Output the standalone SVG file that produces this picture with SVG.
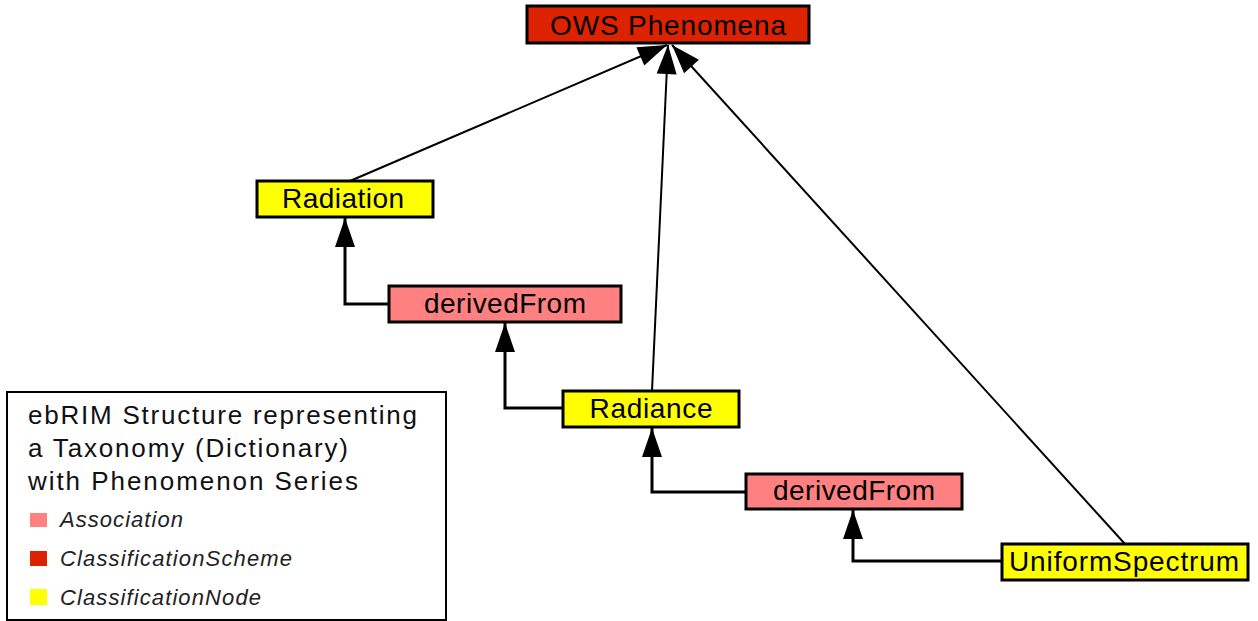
<svg xmlns="http://www.w3.org/2000/svg" width="1258" height="621" viewBox="0 0 1258 621">
<style>
.box{stroke:#000;stroke-width:3}
.scheme{fill:#DD2200}
.node{fill:#FFFF00}
.assoc{fill:#FF8080}
.lbl{font-family:"Liberation Sans",Arial,sans-serif;font-size:28px;fill:#000;text-anchor:middle}
.leg{font-family:"Liberation Sans",Arial,sans-serif;font-size:26px;fill:#111}
.legi{font-family:"Liberation Sans",Arial,sans-serif;font-size:22px;font-style:italic;fill:#222}
.ortho{fill:none;stroke:#000;stroke-width:3}
.diag{fill:none;stroke:#000;stroke-width:2}
</style>
<defs>
<marker id="tri" markerUnits="userSpaceOnUse" markerWidth="32" markerHeight="24" viewBox="-30 -12 32 24" refX="0" refY="0" orient="auto" overflow="visible">
<path d="M0,0 L-29,-10 L-29,10 Z" fill="#000"/>
</marker>
</defs>
<rect width="1258" height="621" fill="#fff"/>
<g id="connectors">
<path class="diag" d="M350,181 L667,45" marker-end="url(#tri)"/>
<path class="diag" d="M652,391 L668,45" marker-end="url(#tri)"/>
<path class="diag" d="M1125,544 L672,45" marker-end="url(#tri)"/>
<path class="ortho" d="M389,304 L345,304 L345,218" marker-end="url(#tri)"/>
<path class="ortho" d="M563,408 L505,408 L505,323" marker-end="url(#tri)"/>
<path class="ortho" d="M746,492 L652,492 L652,428" marker-end="url(#tri)"/>
<path class="ortho" d="M1002,561 L853,561 L853,510" marker-end="url(#tri)"/>
</g>
<g id="ows-phenomena">
<rect class="box scheme" x="527" y="6" width="282" height="37"/>
<text class="lbl" x="668" y="35" textLength="236" lengthAdjust="spacing">OWS Phenomena</text>
</g>
<g id="radiation">
<rect class="box node" x="257" y="181" width="176" height="36"/>
<text class="lbl" x="343" y="208" textLength="122" lengthAdjust="spacing">Radiation</text>
</g>
<g id="derivedFrom1">
<rect class="box assoc" x="389" y="286" width="232" height="36"/>
<text class="lbl" x="505" y="313" textLength="162" lengthAdjust="spacing">derivedFrom</text>
</g>
<g id="radiance">
<rect class="box node" x="563" y="391" width="176" height="36"/>
<text class="lbl" x="651" y="418" textLength="123" lengthAdjust="spacing">Radiance</text>
</g>
<g id="derivedFrom2">
<rect class="box assoc" x="746" y="474" width="216" height="35"/>
<text class="lbl" x="854" y="500" textLength="162" lengthAdjust="spacing">derivedFrom</text>
</g>
<g id="uniformSpectrum">
<rect class="box node" x="1002" y="544" width="246" height="36"/>
<text class="lbl" x="1124" y="571" textLength="230" lengthAdjust="spacing">UniformSpectrum</text>
</g>
<g id="legend">
<rect x="7" y="392" width="439" height="228" fill="#fff" stroke="#000" stroke-width="2"/>
<text class="leg" x="28" y="424" textLength="389" lengthAdjust="spacing">ebRIM Structure representing</text>
<text class="leg" x="28" y="457" textLength="320" lengthAdjust="spacing">a Taxonomy (Dictionary)</text>
<text class="leg" x="28" y="490" textLength="330" lengthAdjust="spacing">with Phenomenon Series</text>
<rect x="30" y="513" width="17" height="14" fill="#FF8080"/>
<text class="legi" x="60" y="527" textLength="123" lengthAdjust="spacing">Association</text>
<rect x="30" y="551" width="17" height="15" fill="#DD2200"/>
<text class="legi" x="60" y="566" textLength="232" lengthAdjust="spacing">ClassificationScheme</text>
<rect x="30" y="589" width="17" height="16" fill="#FFFF00"/>
<text class="legi" x="60" y="605" textLength="201" lengthAdjust="spacing">ClassificationNode</text>
</g>
</svg>
